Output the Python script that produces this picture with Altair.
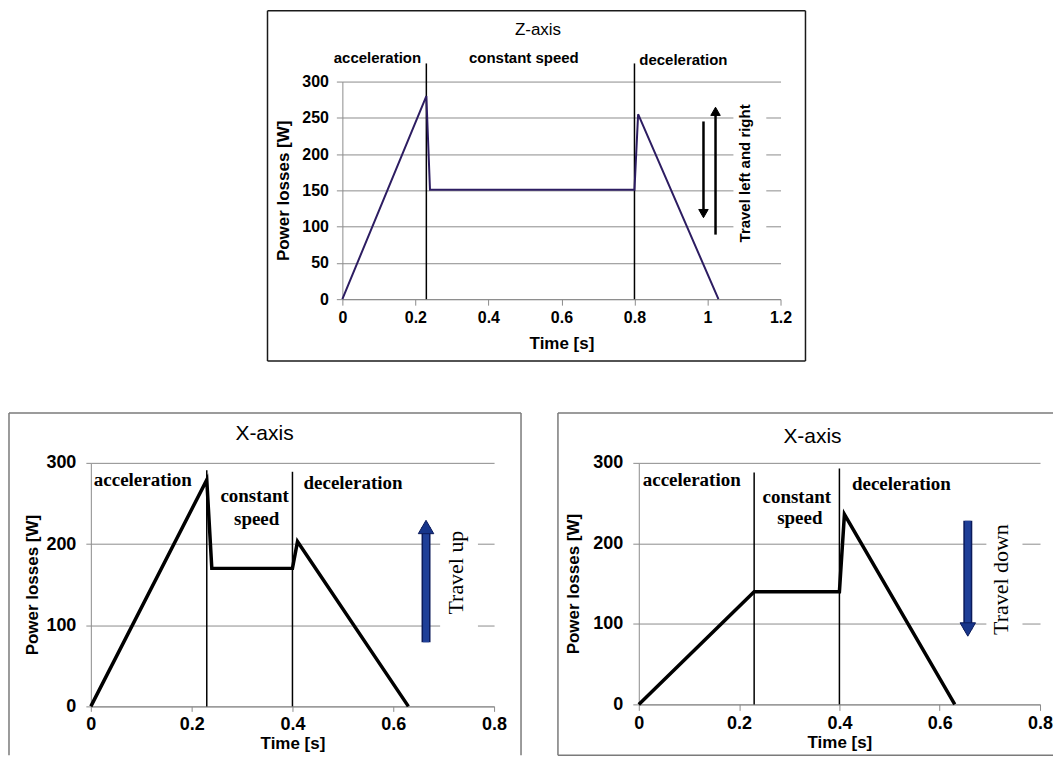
import altair as alt
import pandas as pd

# ---------------- data ----------------
# Z-axis, travel left and right
z_time = [0.0, 0.23, 0.24, 0.80, 0.81, 1.03]
z_power = [0, 280, 151, 151, 255, 0]
z_phase_time = [0.23, 0.80]
z_phase_top = [325, 325]
z_text = ["acceleration", "constant speed", "deceleration"]
z_text_t = [0.096, 0.497, 0.934]
z_text_p = [333, 333, 330]

# X-axis, travel up
up_time = [0.0, 0.23, 0.24, 0.40, 0.41, 0.63]
up_power = [0, 279, 170, 170, 203, 0]
up_phase_time = [0.23, 0.40]
up_phase_top = [291, 289]

# X-axis, travel down
down_time = [0.0, 0.23, 0.40, 0.41, 0.63]
down_power = [0, 140, 140, 236, 0]
down_phase_time = [0.23, 0.40]
down_phase_top = [288, 293]

x_side_text = ["acceleration", "deceleration"]
x_mid_text = ["constant", "speed"]
up_side_t, up_side_p = [0.006, 0.422], [279, 275]
up_mid_t, up_mid_p = [0.325, 0.329], [259, 231]
down_side_t, down_side_p = [0.008, 0.425], [279, 274]
down_mid_t, down_mid_p = [0.315, 0.321], [258, 231]

z_ticks_x = [0, 0.2, 0.4, 0.6, 0.8, 1.0, 1.2]
z_ticks_y = [0, 50, 100, 150, 200, 250, 300]
x_ticks_x = [0, 0.2, 0.4, 0.6, 0.8]
x_ticks_y = [0, 100, 200, 300]

SANS = "Liberation Sans"
SERIF = "Liberation Serif"


def panel(p):
    ax_x = alt.Axis(values=p["xticks"], format="~r", title="Time [s]", grid=False,
                    labelFontSize=p["tick_fs"], titleFontSize=p["axis_title_fs"], labelPadding=p["xlp"],
                    titlePadding=p["xtp"], tickSize=p["tick"], labelFlush=False,
                    labelOverlap=False)
    ax_y = alt.Axis(values=p["yticks"], format="~r", title="Power losses [W]", grid=True,
                    labelFontSize=p["tick_fs"], titleFontSize=p["axis_title_fs"], labelPadding=p["ylp"],
                    titlePadding=p["ytp"], tickSize=p["tick"], labelFlush=False,
                    labelOverlap=False)
    xs = alt.Scale(domain=p["xdom"], nice=False, zero=False)
    ys = alt.Scale(domain=[0, 300], nice=False, zero=False)
    X = lambda f="t": alt.X(f + ":Q", scale=xs, axis=ax_x)
    Y = lambda f="p": alt.Y(f + ":Q", scale=ys, axis=ax_y)

    one = pd.DataFrame({"k": [0]})
    layers = []
    for (x1, y1, x2, y2) in p["frame"]:
        layers.append(alt.Chart(one).mark_rule(color=p["frame_color"], strokeWidth=1.5).encode(
            x=alt.value(x1), y=alt.value(y1), x2=alt.value(x2), y2=alt.value(y2)))

    bt0, bt1, bp0, bp1 = p["box"]
    layers.append(alt.Chart(pd.DataFrame({"t": [bt0], "t2": [bt1], "p": [bp0], "p2": [bp1]})).mark_rect(
        fill="white").encode(x=X(), x2="t2:Q", y=Y(), y2="p2:Q"))

    layers.append(alt.Chart(pd.DataFrame({"t": p["phase_t"], "p": [0] * len(p["phase_t"]),
                                          "p2": p["phase_top"]})).mark_rule(
        color="black", strokeWidth=1.5).encode(x=X(), y=Y(), y2="p2:Q"))

    layers.append(alt.Chart(pd.DataFrame({"t": p["time"], "p": p["power"],
                                          "i": list(range(len(p["time"])))})).mark_line(
        color=p["line_color"], strokeWidth=p["line_w"]).encode(x=X(), y=Y(), order="i:Q"))

    for grp in p["texts"]:
        df = pd.DataFrame({"t": grp["t"], "p": grp["p"], "txt": grp["text"]})
        layers.append(alt.Chart(df).mark_text(
            align=grp["align"], baseline="middle", font=grp["font"], fontSize=grp["fs"],
            fontWeight=grp["fw"], color="black").encode(x=X(), y=Y(), text="txt:N"))

    for ar in p["arrows"]:
        shaft = pd.DataFrame({"t": [ar["t"]], "p": [ar["p0"]], "p2": [ar["p1"]]})
        if ar.get("outline"):
            layers.append(alt.Chart(shaft).mark_rule(color=ar["outline"], strokeWidth=ar["w"] + 3).encode(
                x=X(), y=Y(), y2="p2:Q"))
        layers.append(alt.Chart(shaft).mark_rule(color=ar["color"], strokeWidth=ar["w"]).encode(
            x=X(), y=Y(), y2="p2:Q"))
        head = pd.DataFrame({"t": [ar["t"]], "p": [ar["p1"]]})
        layers.append(alt.Chart(head).mark_point(
            shape=ar["shape"], size=ar["size"], filled=True, fill=ar.get("head", ar["color"]),
            stroke=ar.get("outline", ar["color"]), strokeWidth=1, opacity=1).encode(x=X(), y=Y()))

    lg = p["legend"]
    layers.append(alt.Chart(pd.DataFrame({"t": [lg["t"]], "p": [lg["p"]], "txt": [lg["text"]]})).mark_text(
        angle=270, align="center", baseline="middle", font=lg["font"], fontSize=lg["fs"],
        fontWeight=lg["fw"], color="black").encode(x=X(), y=Y(), text="txt:N"))

    tx, ty = p["title_xy"]
    layers.append(alt.Chart(one).mark_text(
        text=p["title"], font=SANS, fontSize=p["title_fs"], align="center",
        baseline="middle", color="black").encode(x=alt.value(tx), y=alt.value(ty)))

    return alt.layer(*layers).properties(width=p["w"], height=p["h"])


z_panel = panel(dict(
    time=z_time, power=z_power, phase_t=z_phase_time, phase_top=z_phase_top,
    xdom=[0, 1.2], xticks=z_ticks_x, yticks=z_ticks_y, w=439, h=218,
    tick_fs=16, axis_title_fs=17, xlp=4, xtp=10, ylp=8, ytp=9, tick=6,
    line_color="#2d1d62", line_w=2,
    frame=[(-75, -71, 464, -71), (-75, 280, 464, 280), (-75, -71, -75, 280), (464, -71, 464, 280)],
    frame_color="#1a1a1a",
    box=(1.071, 1.161, 74, 290),
    texts=[dict(t=z_text_t, p=z_text_p, text=z_text, align="center", font=SANS, fs=15, fw="bold")],
    arrows=[dict(t=0.989, p0=245, p1=118, shape="triangle-down", size=90, color="black", w=2.5),
            dict(t=1.022, p0=89, p1=259, shape="triangle-up", size=90, color="black", w=2.5)],
    legend=dict(t=1.104, p=173.4, text="Travel left and right", font=SANS, fs=15, fw="bold"),
    title="Z-axis", title_xy=(196, -52), title_fs=17,
))

up_panel = panel(dict(
    time=up_time, power=up_power, phase_t=up_phase_time, phase_top=up_phase_top,
    xdom=[0, 0.8], xticks=x_ticks_x, yticks=x_ticks_y, w=404, h=244,
    tick_fs=18, axis_title_fs=17, xlp=4, xtp=2, ylp=10, ytp=4, tick=5,
    line_color="black", line_w=3.5,
    frame=[(-82, -50, 431, -50), (-82, -50, -82, 293), (431, -50, 431, 293)],
    frame_color="#7a7a7a",
    box=(0.693, 0.768, 85, 225),
    texts=[dict(t=up_side_t, p=up_side_p, text=x_side_text, align="left", font=SERIF, fs=19, fw="bold"),
           dict(t=up_mid_t, p=up_mid_p, text=x_mid_text, align="center", font=SERIF, fs=19, fw="bold")],
    arrows=[dict(t=0.665, p0=79, p1=221, shape="triangle-up", size=240, color="#1f3f98",
                 outline="#0b1a5a", head="#17358a", w=6)],
    legend=dict(t=0.725, p=164.8, text="Travel up", font=SERIF, fs=22, fw="normal"),
    title="X-axis", title_xy=(174, -29), title_fs=21,
))

down_panel = panel(dict(
    time=down_time, power=down_power, phase_t=down_phase_time, phase_top=down_phase_top,
    xdom=[0, 0.8], xticks=x_ticks_x, yticks=x_ticks_y, w=402, h=242,
    tick_fs=18, axis_title_fs=17, xlp=4, xtp=2, ylp=10, ytp=10, tick=6,
    line_color="black", line_w=3.5,
    frame=[(-81, -50, 415, -50), (-81, 293, 415, 293), (-81, -50, -81, 293)],
    frame_color="#7a7a7a",
    box=(0.693, 0.765, 80, 232),
    texts=[dict(t=down_side_t, p=down_side_p, text=x_side_text, align="left", font=SERIF, fs=19, fw="bold"),
           dict(t=down_mid_t, p=down_mid_p, text=x_mid_text, align="center", font=SERIF, fs=19, fw="bold")],
    arrows=[dict(t=0.656, p0=228, p1=93, shape="triangle-down", size=240, color="#1f3f98",
                 outline="#0b1a5a", head="#17358a", w=6)],
    legend=dict(t=0.722, p=155, text="Travel down", font=SERIF, fs=22, fw="normal"),
    title="X-axis", title_xy=(174, -26), title_fs=21,
))

spacer = alt.Chart(pd.DataFrame({"k": [0]})).mark_rect(opacity=0).encode(
    x=alt.value(0), x2=alt.value(1), y=alt.value(0), y2=alt.value(1)).properties(width=176, height=10)

top_row = alt.hconcat(spacer, z_panel, spacing=0)
bottom_row = alt.hconcat(up_panel, down_panel, spacing=35)

chart = alt.vconcat(top_row, bottom_row, spacing=50).properties(
    padding={"left": 0, "top": 1, "right": 0, "bottom": 0}
).configure_view(stroke=None).configure_axis(
    domainColor="#8c8c8c", tickColor="#8c8c8c", gridColor="#8c8c8c", gridWidth=1,
    domainWidth=1, labelColor="black", titleColor="black", labelFont=SANS, titleFont=SANS,
    labelFontWeight="bold", titleFontWeight="bold"
)

chart.save("out.html", embed_options={"renderer": "svg", "actions": False})
